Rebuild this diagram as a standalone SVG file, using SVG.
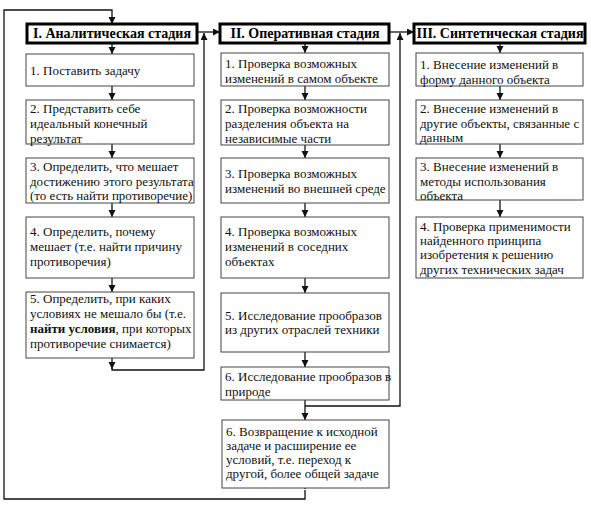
<svg xmlns="http://www.w3.org/2000/svg" width="591" height="510" viewBox="0 0 591 510">
<style>
.box{fill:#fff;stroke:#444;stroke-width:1}
.hdr{fill:#fff;stroke:#000;stroke-width:3}
text{font-family:'Liberation Serif','DejaVu Serif',serif}
.t{font-size:13px;fill:#111}
.h{font-size:14px;font-weight:bold;fill:#000;text-anchor:middle}
.ca{fill:none;stroke:#111;stroke-width:1.3;marker-end:url(#ah)}
</style>
<defs>
<marker id="ah" markerUnits="userSpaceOnUse" markerWidth="8" markerHeight="8" refX="7" refY="3.5" orient="auto">
<path d="M0,0 L7,3.5 L0,7 z" fill="#111"/>
</marker>
</defs>
<rect width="591" height="510" fill="#fff"/>

<g id="connectors">
<path class="ca" d="M305,490 V499 H4 V10 H112 V24"/>
<path class="ca" d="M305,470 V489"/>
<path class="ca" d="M112,43 V54"/>
<path class="ca" d="M112,86 V100"/>
<path class="ca" d="M112,144 V158"/>
<path class="ca" d="M112,203 V217"/>
<path class="ca" d="M112,278 V292"/>
<path class="ca" d="M112,358 V369"/>
<path class="ca" d="M112,368 V370 H204 V33"/>
<path class="ca" d="M198,32 H220"/>
<path class="ca" d="M305,43 V53"/>
<path class="ca" d="M305,86 V100"/>
<path class="ca" d="M305,145 V158"/>
<path class="ca" d="M305,203 V217"/>
<path class="ca" d="M305,278 V293"/>
<path class="ca" d="M305,352 V367"/>
<path class="ca" d="M305,400 V420"/>
<path class="ca" d="M305,406 H400 V33"/>
<path class="ca" d="M390,32 H414"/>
<path class="ca" d="M500,43 V53"/>
<path class="ca" d="M500,86 V100"/>
<path class="ca" d="M500,144 V158"/>
<path class="ca" d="M500,200 V217"/>
</g>

<g id="h1"><rect class="hdr" x="27" y="24" width="170" height="19"/><text class="h" x="112" y="38">I. Аналитическая стадия</text></g>
<g id="a1"><rect class="box" x="26" y="54" width="168" height="32"/><text class="t" x="30" y="75">1. Поставить задачу</text></g>
<g id="a2"><rect class="box" x="26" y="100" width="168" height="44"/><text class="t" x="30" y="113">2. Представить себе</text><text class="t" x="30" y="128">идеальный конечный</text><text class="t" x="30" y="143">результат</text></g>
<g id="a3"><rect class="box" x="26" y="158" width="168" height="45"/><text class="t" x="30" y="171">3. Определить, что мешает</text><text class="t" x="30" y="186">достижению этого результата</text><text class="t" x="30" y="200">(то есть найти противоречие)</text></g>
<g id="a4"><rect class="box" x="26" y="217" width="168" height="61"/><text class="t" x="30" y="236">4. Определить, почему</text><text class="t" x="30" y="251">мешает (т.е. найти причину</text><text class="t" x="30" y="266">противоречия)</text></g>
<g id="a5"><rect class="box" x="26" y="292" width="168" height="66"/><text class="t" x="30" y="303">5. Определить, при каких</text><text class="t" x="30" y="318">условиях не мешало бы (т.е.</text><text class="t" x="30" y="333"><tspan font-weight="bold">найти условия</tspan>, при которых</text><text class="t" x="30" y="348">противоречие снимается)</text></g>

<g id="h2"><rect class="hdr" x="220" y="24" width="169" height="19"/><text class="h" x="305" y="38">II. Оперативная стадия</text></g>
<g id="b1"><rect class="box" x="221" y="53" width="168" height="33"/><text class="t" x="225" y="68">1. Проверка возможных</text><text class="t" x="225" y="83">изменений в самом объекте</text></g>
<g id="b2"><rect class="box" x="221" y="100" width="168" height="45"/><text class="t" x="225" y="113">2. Проверка возможности</text><text class="t" x="225" y="128">разделения объекта на</text><text class="t" x="225" y="143">независимые части</text></g>
<g id="b3"><rect class="box" x="221" y="158" width="168" height="45"/><text class="t" x="225" y="178">3. Проверка возможных</text><text class="t" x="225" y="193">изменений во внешней среде</text></g>
<g id="b4"><rect class="box" x="221" y="217" width="168" height="61"/><text class="t" x="225" y="236">4. Проверка возможных</text><text class="t" x="225" y="251">изменений в соседних</text><text class="t" x="225" y="266">объектах</text></g>
<g id="b5"><rect class="box" x="221" y="293" width="168" height="59"/><text class="t" x="225" y="320">5. Исследование прообразов</text><text class="t" x="225" y="334">из других отраслей техники</text></g>
<g id="b6"><rect class="box" x="221" y="367" width="168" height="33"/><text class="t" x="225" y="381">6. Исследование прообразов в</text><text class="t" x="225" y="396">природе</text></g>
<g id="b7"><rect class="box" x="222" y="420" width="167" height="68"/><text class="t" x="226" y="436">6. Возвращение к исходной</text><text class="t" x="226" y="450">задаче и расширение ее</text><text class="t" x="226" y="464">условий, т.е. переход к</text><text class="t" x="226" y="478">другой, более общей задаче</text></g>

<g id="h3"><rect class="hdr" x="414" y="24" width="171" height="19"/><text class="h" x="500" y="38">III. Синтетическая стадия</text></g>
<g id="c1"><rect class="box" x="416" y="53" width="167" height="33"/><text class="t" x="420" y="69">1. Внесение изменений в</text><text class="t" x="420" y="84">форму данного объекта</text></g>
<g id="c2"><rect class="box" x="416" y="100" width="167" height="44"/><text class="t" x="420" y="113">2. Внесение изменений в</text><text class="t" x="420" y="128">другие объекты, связанные с</text><text class="t" x="420" y="142">данным</text></g>
<g id="c3"><rect class="box" x="416" y="158" width="167" height="42"/><text class="t" x="420" y="171">3. Внесение изменений в</text><text class="t" x="420" y="186">методы использования</text><text class="t" x="420" y="200">объекта</text></g>
<g id="c4"><rect class="box" x="416" y="217" width="167" height="61"/><text class="t" x="420" y="231">4. Проверка применимости</text><text class="t" x="420" y="245">найденного принципа</text><text class="t" x="420" y="259">изобретения к решению</text><text class="t" x="420" y="274">других технических задач</text></g>
</svg>
